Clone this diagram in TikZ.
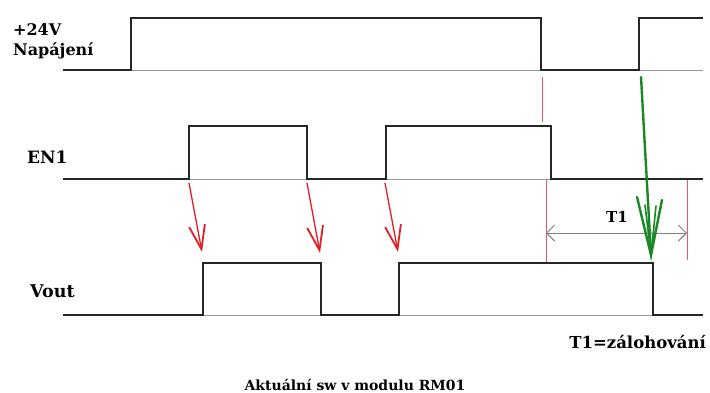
\documentclass[tikz,border=0pt]{standalone}
\usepackage{fontspec}
\setmainfont{DejaVu Serif}
\usetikzlibrary{arrows.meta}
\definecolor{redarr}{RGB}{225,30,35}
\definecolor{greenarr}{RGB}{25,135,35}
\definecolor{redline}{RGB}{225,90,100}
\tikzset{
  sig/.style={line width=1.8pt, black!85, line join=miter},
  base/.style={line width=1pt, black!40},
  lbl/.style={font=\bfseries\fontsize{16}{18}\selectfont, inner sep=0pt, anchor=base west},
  redarrow/.style={redarr, line width=1.3pt, -{Straight Barb[length=24pt,width=16pt,line width=1.8pt]}},
  greenline/.style={greenarr, line width=2.4pt, line cap=round},
  mark line/.style={redline, line width=0.7pt},
  dim/.style={black!50, line width=0.9pt, {Straight Barb[length=8pt,width=16pt]}-{Straight Barb[length=8pt,width=16pt]}}
}
\begin{document}
\begin{tikzpicture}[x=1pt,y=-1pt]
\useasboundingbox (0,0) rectangle (710,392);
% labels
\node[lbl] (l24) at (13,35) {+24V};
\node[lbl] (lnap) at (13,55) {Napájení};
\node[lbl, font=\bfseries\fontsize{17}{18}\selectfont] (len) at (27,163) {EN1};
\node[lbl, font=\bfseries\fontsize{17.5}{18}\selectfont] (lvout) at (30,297) {Vout};
\node[lbl, anchor=base east, font=\bfseries\fontsize{16.5}{18}\selectfont] (lt1z) at (706,348) {T1=zálohování};
\node[lbl, anchor=base, font=\bfseries\fontsize{14}{16}\selectfont] (ltitle) at (355,390) {Aktuální sw v modulu RM01};
\node[lbl, anchor=base, font=\bfseries\fontsize{15}{16}\selectfont] (lt1) at (617,222) {T1};
% baselines
\draw[base] (63,70) -- (703,70);
\draw[base] (63,179) -- (703,179);
\draw[base] (63,315) -- (703,315);
% +24V
\draw[sig] (63,70) -- (131,70) -- (131,18) -- (541,18) -- (541,70) -- (639,70) -- (639,18) -- (703,18);
% EN1
\draw[sig] (63,179) -- (189,179) -- (189,126) -- (307,126) -- (307,179) -- (386,179) -- (386,126) -- (551,126) -- (551,179) -- (703,179);
% Vout
\draw[sig] (63,315) -- (203,315) -- (203,263) -- (321,263) -- (321,315) -- (399,315) -- (399,263) -- (653,263) -- (653,315) -- (703,315);
% red marker lines
\coordinate (m1a) at (542,77); \coordinate (m1b) at (542,122);
\coordinate (m2a) at (546,180); \coordinate (m2b) at (546,262);
\coordinate (m3a) at (687,180); \coordinate (m3b) at (687,260);
\draw[mark line] (m1a) -- (m1b);
\draw[mark line] (m2a) -- (m2b);
\draw[mark line] (m3a) -- (m3b);
% T1 dimension
\coordinate (d1) at (546,233); \coordinate (d2) at (687,233);
\draw[dim] (d1) -- (d2);
% red arrows
\coordinate (a1s) at (189,183); \coordinate (a1e) at (202,252);
\coordinate (a2s) at (307,183); \coordinate (a2e) at (320,253);
\coordinate (a3s) at (385,183); \coordinate (a3e) at (398,252);
\draw[redarrow] (a1s) -- (a1e);
\draw[redarrow] (a2s) -- (a2e);
\draw[redarrow] (a3s) -- (a3e);
% green arrow (hand drawn, long barbs)
\coordinate (gs) at (641,77); \coordinate (ge) at (651,255);
\coordinate (gl) at (637,197); \coordinate (gr) at (662,200);
\coordinate (gl2) at (645,205); \coordinate (gr2) at (656,206);
\draw[greenline] (gs) -- (ge);
\draw[greenline] (gl) -- (ge) -- (gr);
\draw[greenline, line width=1.6pt] (gl2) -- (ge) -- (gr2);
\end{tikzpicture}
\end{document}
